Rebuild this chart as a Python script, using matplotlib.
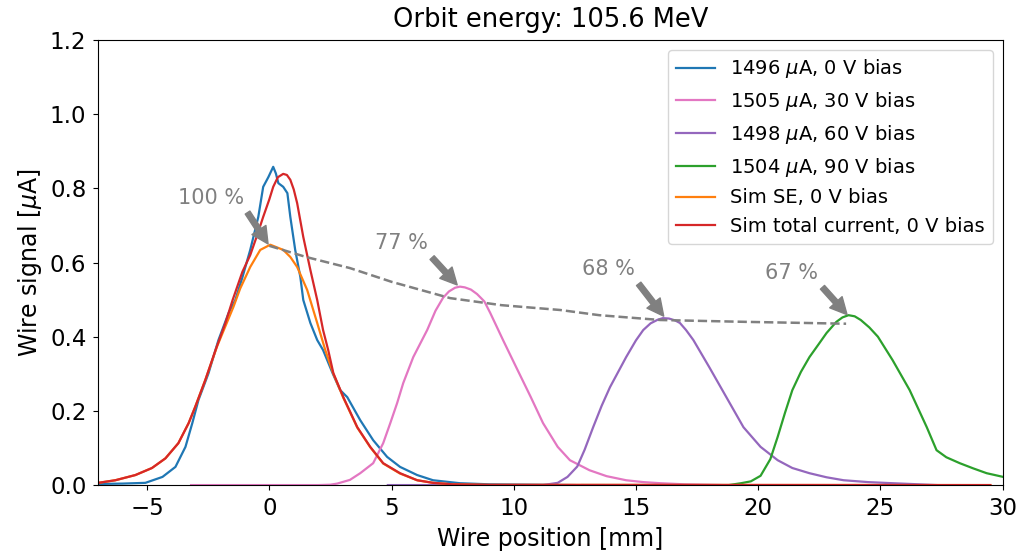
import matplotlib
matplotlib.use('Agg')
import matplotlib.pyplot as plt

x_0v = [-7.0, -6.0, -5.07, -4.37, -3.84, -3.43, -3.15, -2.9, -2.49, -2.08, -1.67, -1.39, -1.1,
        -0.78, -0.45, -0.25, -0.04, 0.16, 0.27, 0.37, 0.57, 0.74, 0.86, 1.06, 1.27, 1.39, 1.68,
        1.96, 2.2, 2.6, 2.9, 3.19, 3.72, 4.25, 4.82, 5.35, 6.05, 6.7, 7.8, 9.0, 12.5]
y_0v = [0.003, 0.004, 0.006, 0.022, 0.049, 0.103, 0.167, 0.229, 0.301, 0.391, 0.463, 0.499,
        0.56, 0.634, 0.723, 0.804, 0.83, 0.858, 0.84, 0.814, 0.804, 0.787, 0.723, 0.634, 0.561,
        0.499, 0.437, 0.391, 0.364, 0.3, 0.256, 0.237, 0.175, 0.121, 0.076, 0.049, 0.027, 0.013,
        0.005, 0.002, 0.0]

x_30v = [-3.2, 2.0, 2.5, 2.78, 3.3, 3.72, 4.25, 4.66, 4.95, 5.23, 5.48, 5.89, 6.46, 6.8, 7.11,
         7.35, 7.6, 7.8, 8.0, 8.25, 8.5, 8.8, 9.04, 9.57, 10.1, 10.7, 11.2, 11.8, 12.3, 13.1,
         13.8, 14.6, 15.3, 16.0, 17.0, 18.5]
y_30v = [0.0, 0.0, 0.001, 0.004, 0.014, 0.032, 0.059, 0.113, 0.167, 0.221, 0.275, 0.345, 0.418,
         0.47, 0.505, 0.522, 0.532, 0.535, 0.533, 0.527, 0.515, 0.495, 0.464, 0.39, 0.318,
         0.237, 0.167, 0.103, 0.067, 0.04, 0.024, 0.013, 0.008, 0.005, 0.002, 0.0]

x_60v = [4.85, 11.2, 11.8, 12.2, 12.6, 12.9, 13.25, 13.6, 13.94, 14.6, 15.0, 15.3, 15.6, 15.9,
         16.1, 16.35, 16.6, 16.8, 17.05, 17.35, 18.0, 18.7, 19.4, 20.1, 20.8, 21.4, 22.1, 22.8,
         23.5, 24.5, 25.5, 27.3]
y_60v = [0.0, 0.0, 0.006, 0.022, 0.05, 0.095, 0.156, 0.214, 0.264, 0.345, 0.39, 0.418, 0.436,
         0.446, 0.45, 0.449, 0.444, 0.437, 0.418, 0.391, 0.318, 0.237, 0.156, 0.103, 0.067,
         0.046, 0.032, 0.021, 0.013, 0.008, 0.005, 0.0]

x_90v = [12.8, 18.8, 19.3, 19.7, 20.1, 20.5, 20.8, 21.1, 21.4, 21.75, 22.1, 22.5, 22.8, 23.2,
         23.45, 23.7, 23.95, 24.2, 24.55, 24.9, 25.5, 26.2, 26.9, 27.3, 27.7, 28.25, 28.8, 29.35,
         30.5]
y_90v = [0.0, 0.0, 0.005, 0.01, 0.025, 0.07, 0.13, 0.195, 0.256, 0.305, 0.345, 0.382, 0.41,
         0.44, 0.452, 0.458, 0.455, 0.445, 0.425, 0.4, 0.337, 0.256, 0.156, 0.094, 0.075,
         0.059, 0.045, 0.032, 0.015]

# Simulations
x_sim_tot = [-7.0, -6.3, -5.48, -4.8, -4.25, -3.72, -3.3, -3.03, -2.62, -2.2, -1.8, -1.5, -1.1,
             -0.78, -0.5, -0.25, 0.0, 0.16, 0.35, 0.57, 0.72, 0.86, 1.0, 1.14, 1.39, 1.68, 1.96,
             2.2, 2.41, 2.62, 3.03, 3.6, 4.13, 4.66, 5.35, 6.05, 6.7, 7.5, 9.0, 29.5]
y_sim_tot = [0.006, 0.013, 0.027, 0.046, 0.072, 0.113, 0.167, 0.211, 0.283, 0.364, 0.436, 0.499,
             0.575, 0.62, 0.673, 0.723, 0.77, 0.804, 0.83, 0.839, 0.836, 0.823, 0.797, 0.76,
             0.669, 0.58, 0.499, 0.418, 0.364, 0.302, 0.237, 0.156, 0.103, 0.059, 0.032, 0.013,
             0.006, 0.002, 0.0005, 0.0]

x_sim_se = [-7.0, -6.3, -5.48, -4.8, -4.25, -3.72, -3.3, -3.03, -2.62, -2.13, -1.47, -1.19,
            -0.78, -0.37, 0.04, 0.57, 0.86, 1.14, 1.55, 1.96, 2.29, 2.62, 3.03, 3.6, 4.13, 4.66,
            5.35, 6.05, 6.7, 7.5, 9.0, 29.5]
y_sim_se = [0.006, 0.013, 0.027, 0.046, 0.072, 0.113, 0.167, 0.211, 0.283, 0.375, 0.48, 0.53,
            0.588, 0.634, 0.648, 0.634, 0.615, 0.588, 0.526, 0.437, 0.364, 0.3, 0.235, 0.155,
            0.102, 0.058, 0.031, 0.013, 0.006, 0.002, 0.0005, 0.0]

# Peak-height trend (dashed)
x_trend = [0.0, 1.5, 3.3, 5.0, 7.4, 9.5, 11.9, 13.5, 16.0, 19.5, 23.6]
y_trend = [0.645, 0.615, 0.585, 0.548, 0.504, 0.485, 0.472, 0.458, 0.445, 0.44, 0.435]

# Annotations: label, text position, target
ann_labels = ['100 %', '77 %', '68 %', '67 %']
ann_text = [(-3.72, 0.758), (4.33, 0.636), (12.8, 0.566), (20.3, 0.556)]
ann_target = [(0.0, 0.645), (7.75, 0.535), (16.2, 0.45), (23.7, 0.455)]

fig, ax = plt.subplots(figsize=(10.23, 5.55), dpi=100)
fig.subplots_adjust(left=0.096, right=0.980, top=0.928, bottom=0.126)

lw = 1.6
ax.plot(x_0v, y_0v, color='tab:blue', lw=lw, label=r'1496 $\mu$A, 0 V bias')
ax.plot(x_30v, y_30v, color='tab:pink', lw=lw, label=r'1505 $\mu$A, 30 V bias')
ax.plot(x_60v, y_60v, color='tab:purple', lw=lw, label=r'1498 $\mu$A, 60 V bias')
ax.plot(x_90v, y_90v, color='tab:green', lw=lw, label=r'1504 $\mu$A, 90 V bias')
ax.plot(x_sim_se, y_sim_se, color='tab:orange', lw=lw, label='Sim SE, 0 V bias')
ax.plot(x_sim_tot, y_sim_tot, color='tab:red', lw=lw, label='Sim total current, 0 V bias')
ax.plot(x_trend, y_trend, color='gray', lw=1.8, ls='--')

for lab, xt, xy in zip(ann_labels, ann_text, ann_target):
    ax.annotate(lab, xy=xy, xytext=xt, color='gray', fontsize=15,
                arrowprops=dict(facecolor='gray', edgecolor='gray', shrink=0.05))

ax.set_xlim(-7, 30)
ax.set_ylim(0, 1.2)
ax.set_xlabel('Wire position [mm]', fontsize=17, labelpad=5)
ax.set_ylabel(r'Wire signal [$\mu$A]', fontsize=17)
ax.set_title('Orbit energy: 105.6 MeV', fontsize=18.5, pad=9)
ax.tick_params(labelsize=16.5, pad=5)
ax.legend(loc='upper right', fontsize=14)

fig.savefig('out.png', dpi=100)
